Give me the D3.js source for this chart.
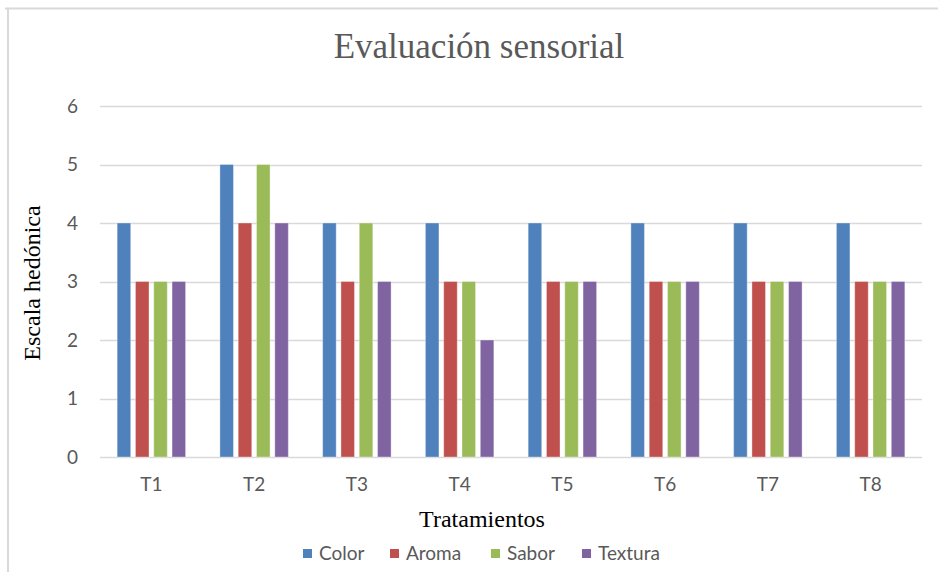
<!DOCTYPE html>
<html>
<head>
<meta charset="utf-8">
<script src="https://cdn.jsdelivr.net/npm/d3@7"></script>
<style>
  html, body { margin: 0; padding: 0; background: #fff; }
  svg { display: block; }
</style>
</head>
<body>
<svg id="chart" width="938" height="572"></svg>
<script>
// Treatments, sensory attributes and hedonic scores
const categories = ["T1", "T2", "T3", "T4", "T5", "T6", "T7", "T8"];
const seriesNames = ["Color", "Aroma", "Sabor", "Textura"];
const color   = [4, 5, 4, 4, 4, 4, 4, 4];
const aroma   = [3, 4, 3, 3, 3, 3, 3, 3];
const sabor   = [3, 5, 4, 3, 3, 3, 3, 3];
const textura = [3, 4, 3, 2, 3, 3, 3, 3];
const yTicks = [0, 1, 2, 3, 4, 5, 6];
const seriesValues = [color, aroma, sabor, textura];
const palette = ["#4F81BD", "#C0504D", "#9BBB59", "#8064A2"];

const sansFont = "Lato, 'Open Sans', sans-serif";
const serifFont = "'Liberation Serif', 'DejaVu Serif', serif";

const svg = d3.select("#chart");

// chart frame
svg.append("line").attr("x1", 5).attr("x2", 938).attr("y1", 8.5).attr("y2", 8.5)
  .attr("stroke", "#d9d9d9").attr("stroke-width", 2);
svg.append("line").attr("x1", 8).attr("x2", 8).attr("y1", 8).attr("y2", 572)
  .attr("stroke", "#d9d9d9").attr("stroke-width", 2);

const plot = { left: 100, right: 922, top: 106, bottom: 457 };

const x0 = d3.scaleBand().domain(categories)
  .range([plot.left, plot.right]).paddingInner(0.334).paddingOuter(0.167);
const x1 = d3.scaleBand().domain(seriesNames)
  .range([0, x0.bandwidth()]).paddingInner(0.26).paddingOuter(0);
const y = d3.scaleLinear().domain([0, 6]).range([plot.bottom, plot.top]);

// gridlines
svg.append("g").selectAll("line").data(yTicks).join("line")
  .attr("x1", plot.left).attr("x2", plot.right)
  .attr("y1", d => Math.round(y(d)) + 0.5).attr("y2", d => Math.round(y(d)) + 0.5)
  .attr("stroke", "#d9d9d9").attr("stroke-width", 1.5);

// y axis labels
const yAxis = d3.axisLeft(y).tickValues(yTicks).tickFormat(d3.format("d"))
  .tickSize(0).tickPadding(0);
const gy = svg.append("g").attr("transform", "translate(78,0)").call(yAxis);
gy.select(".domain").remove();
gy.selectAll("text")
  .attr("font-family", sansFont).attr("font-size", 19).attr("fill", "#595959");

// x axis labels
const xAxis = d3.axisBottom(x0).tickSize(0).tickPadding(0);
const gx = svg.append("g").attr("transform", "translate(0,477)").call(xAxis);
gx.select(".domain").remove();
gx.selectAll("text")
  .attr("font-family", sansFont).attr("font-size", 19).attr("fill", "#595959");

// bars
const rows = categories.map((c, i) => ({
  cat: c,
  vals: seriesNames.map((s, j) => ({ s, j, v: seriesValues[j][i] }))
}));
svg.append("g").selectAll("g").data(rows).join("g")
  .attr("transform", d => `translate(${x0(d.cat)},0)`)
  .selectAll("rect").data(d => d.vals).join("rect")
  .attr("x", d => x1(d.s))
  .attr("y", d => y(d.v))
  .attr("width", x1.bandwidth())
  .attr("height", d => y(0) - y(d.v))
  .attr("fill", d => palette[d.j])
  .attr("stroke", "#ffffff").attr("stroke-opacity", 0.35).attr("stroke-width", 1);

// title
svg.append("text").attr("x", 479).attr("y", 58).attr("text-anchor", "middle")
  .attr("font-family", serifFont).attr("font-size", 35).attr("fill", "#595959")
  .text("Evaluación sensorial");

// axis titles
svg.append("text")
  .attr("transform", "translate(40,283) rotate(-90)")
  .attr("text-anchor", "middle")
  .attr("font-family", serifFont).attr("font-size", 24).attr("fill", "#000")
  .text("Escala hedónica");
svg.append("text").attr("x", 482).attr("y", 527).attr("text-anchor", "middle")
  .attr("font-family", serifFont).attr("font-size", 24).attr("fill", "#000")
  .text("Tratamientos");

// legend
const legendX = [303, 390, 491, 582];
const lg = svg.append("g").selectAll("g").data(seriesNames).join("g")
  .attr("transform", (d, i) => `translate(${legendX[i]},549)`);
lg.append("rect").attr("width", 9).attr("height", 9).attr("fill", (d, i) => palette[i]);
lg.append("text").attr("x", 16).attr("y", 11)
  .attr("font-family", sansFont).attr("font-size", 19).attr("fill", "#595959")
  .text(d => d);
</script>
</body>
</html>
